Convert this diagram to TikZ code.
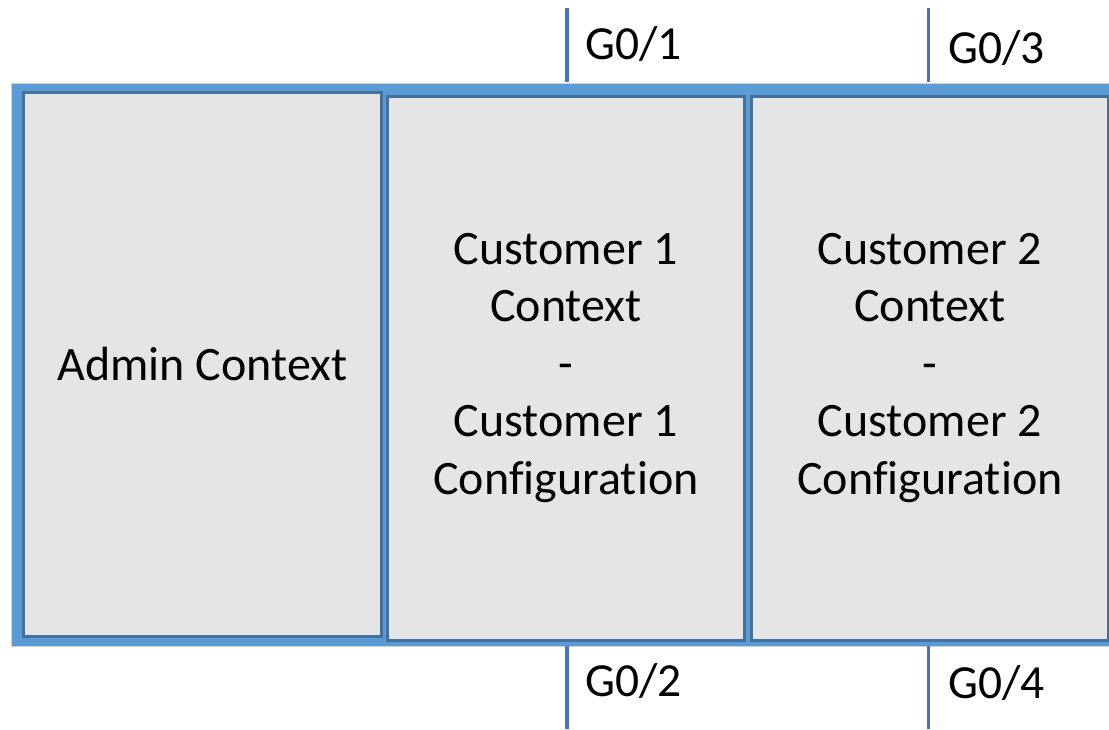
\documentclass[tikz,border=0pt]{standalone}
\usepackage{fontspec}
\setmainfont{Carlito}[RawFeature={-liga;-clig;-calt}]
\definecolor{outerblue}{RGB}{91,155,213}
\definecolor{panelgray}{RGB}{229,229,229}
\definecolor{paneledge}{RGB}{65,113,156}
\definecolor{portblue}{RGB}{68,114,196}
\tikzset{
  panel/.style={draw=paneledge, line width=3pt, fill=panelgray, inner sep=0pt,
    align=center, font=\fontsize{48}{57.5}\selectfont, text=black},
  port/.style={draw=portblue, line width=3.5pt},
  portlabel/.style={anchor=west, inner sep=0pt, font=\fontsize{47.5}{50}\selectfont}
}
\begin{document}
\begin{tikzpicture}[x=1pt,y=-1pt]
\useasboundingbox (0,0) rectangle (1109,729);
\node[draw=black!18, line width=1pt, fill=outerblue, minimum width=1098pt, minimum height=563pt, inner sep=0pt, anchor=north west] (outer) at (11,82.5) {};
\node[panel, minimum width=358pt, minimum height=544pt, anchor=north west] (admin) at (22,91) {Admin Context};
\node[panel, minimum width=357pt, minimum height=544pt, anchor=north west] (c1) at (386,94.5) {Customer 1\\Context\\-\\Customer 1\\Configurat\kern0pt ion};
\node[panel, minimum width=357pt, minimum height=544pt, anchor=north west] (c2) at (750,94.5) {Customer 2\\Context\\-\\Customer 2\\Configurat\kern0pt ion};
\coordinate (p1a) at (567,8);   \coordinate (p1b) at (567,82);
\coordinate (p3a) at (928.5,8); \coordinate (p3b) at (928.5,82);
\coordinate (p2a) at (567,646); \coordinate (p2b) at (567,729);
\coordinate (p4a) at (928.5,646); \coordinate (p4b) at (928.5,729);
\draw[port] (p1a) -- (p1b);
\draw[port] (p3a) -- (p3b);
\draw[port] (p2a) -- (p2b);
\draw[port] (p4a) -- (p4b);
\node[portlabel] (l1) at (585,44) {G0/1};
\node[portlabel] (l3) at (948,48) {G0/3};
\node[portlabel] (l2) at (585,681) {G0/2};
\node[portlabel] (l4) at (948,683) {G0/4};
\end{tikzpicture}
\end{document}
